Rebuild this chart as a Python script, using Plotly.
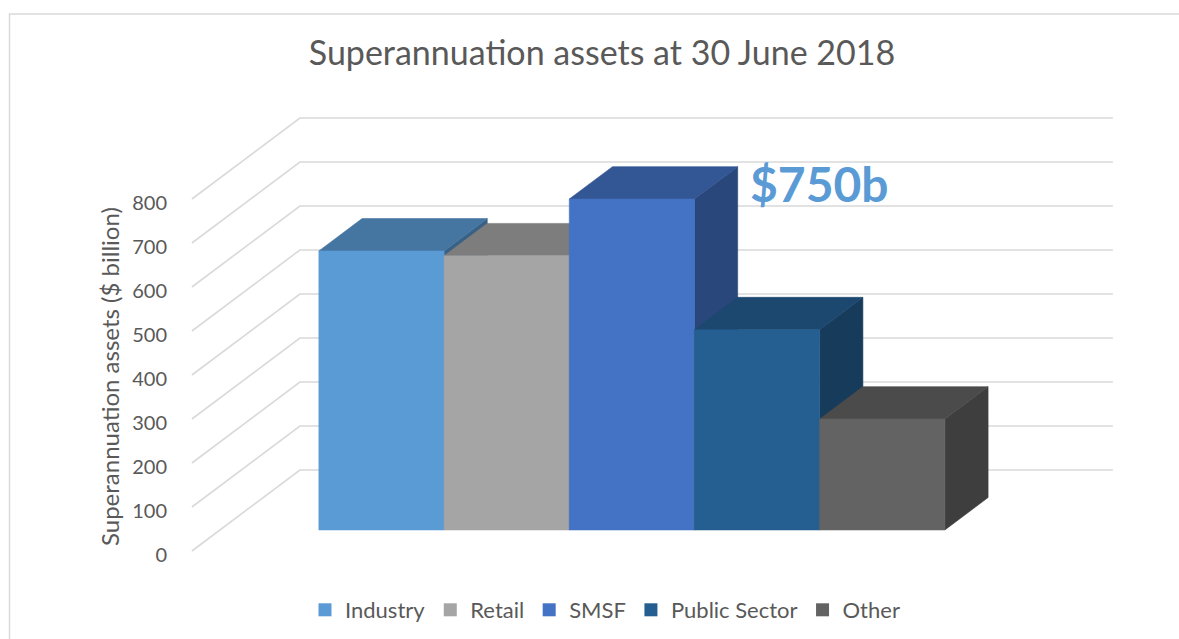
import plotly.graph_objects as go

# ---- data ----
categories = ["Industry", "Retail", "SMSF", "Public Sector", "Other"]
assets_bn = [634, 623, 752, 455, 252]
tick_values = [0, 100, 200, 300, 400, 500, 600, 700, 800]
title_text = "Superannuation assets at 30 June 2018"
y_title = "Superannuation assets ($ billion)"
callout = "$750b"

# ---- style / layout constants ----
colors = ["#5B9BD5", "#A5A5A5", "#4472C4", "#255E91", "#636363"]
TOP_SHADE, SIDE_SHADE = 0.76, 0.63
DX, DY = 0.8626, 184.1          # oblique offset for a full depth (x in category units, y in value units)
BAR_D0, BAR_D1 = 0.26, 0.66     # depth span of bars
WALL_X0, WALL_X1 = -1.29, 5.204 # floor-x of side wall plane and right end of back wall
X_RANGE = [-1.385, 6.083]
Y_RANGE = [-20.45, 1025]
GRID = "#D9D9D9"
TXT = "#595959"
FONT = "Lato"
W, H = 1179, 639
ML, MR, MT, MB = 180, 64, 100, 79


def shade(hex_color, k):
    h = hex_color.lstrip("#")
    r, g, b = (int(h[i:i + 2], 16) for i in (0, 2, 4))
    return "rgb({},{},{})".format(int(r * k), int(g * k), int(b * k))


def P(x, h, d):
    return x + d * DX, h + d * DY


def poly(points, color, name):
    xs = [p[0] for p in points] + [points[0][0]]
    ys = [p[1] for p in points] + [points[0][1]]
    return go.Scatter(x=xs, y=ys, mode="lines", fill="toself", fillcolor=color,
                      line=dict(color=color, width=0.6), hoverinfo="skip",
                      showlegend=False, name=name)


fig = go.Figure()

# gridlines on side wall + back wall
gx, gy = [], []
for t in tick_values:
    for pt in (P(WALL_X0, t, 0), P(WALL_X0, t, 1), P(WALL_X1, t, 1)):
        gx.append(pt[0]); gy.append(pt[1])
    gx.append(None); gy.append(None)
fig.add_trace(go.Scatter(x=gx, y=gy, mode="lines", line=dict(color=GRID, width=1.6),
                         hoverinfo="skip", showlegend=False))

# 3-D bars, drawn left to right
for i, (cat, v, c) in enumerate(zip(categories, assets_bn, colors)):
    xl, xr = i - 0.5, i + 0.5
    side = [P(xr, 0, BAR_D0), P(xr, v, BAR_D0), P(xr, v, BAR_D1), P(xr, 0, BAR_D1)]
    top = [P(xl, v, BAR_D0), P(xr, v, BAR_D0), P(xr, v, BAR_D1), P(xl, v, BAR_D1)]
    front = [P(xl, 0, BAR_D0), P(xr, 0, BAR_D0), P(xr, v, BAR_D0), P(xl, v, BAR_D0)]
    fig.add_trace(poly(side, shade(c, SIDE_SHADE), cat))
    fig.add_trace(poly(top, shade(c, TOP_SHADE), cat))
    fig.add_trace(poly(front, c, cat))

# legend entries
for cat, c in zip(categories, colors):
    fig.add_trace(go.Scatter(x=[None], y=[None], mode="markers", name=cat,
                             marker=dict(symbol="square", size=13, color=c)))

pw = W - ML - MR
ph = H - MT - MB


def px_x(p):
    return (p - ML) / pw


def px_y(p):
    return (H - MB - p) / ph


annotations = [
    dict(text=y_title, textangle=-90, x=px_x(109), y=px_y(377), xref="paper", yref="paper",
         showarrow=False, font=dict(family=FONT, size=24, color=TXT),
         xanchor="center", yanchor="middle"),
    dict(text="<b>" + callout + "</b>", x=px_x(819), y=px_y(183), xref="paper", yref="paper",
         showarrow=False, font=dict(family=FONT, size=48, color="#5B9BD5"),
         xanchor="center", yanchor="middle"),
]

fig.update_layout(
    width=W, height=H,
    margin=dict(l=ML, r=MR, t=MT, b=MB, autoexpand=False),
    paper_bgcolor="white", plot_bgcolor="white",
    title=dict(text=title_text, x=602 / W, xref="container", xanchor="center",
               y=1 - 53 / H, yref="container", yanchor="middle",
               font=dict(family=FONT, size=34, color=TXT)),
    xaxis=dict(range=X_RANGE, visible=False, fixedrange=True),
    yaxis=dict(range=Y_RANGE, tickvals=tick_values, showgrid=False, zeroline=False,
               showline=False, ticks="outside", ticklen=8, tickcolor="rgba(0,0,0,0)",
               ticklabelshift=4,
               tickfont=dict(family=FONT, size=20, color=TXT), fixedrange=True),
    legend=dict(orientation="h", x=px_x(605), xanchor="center", y=px_y(610), yanchor="middle",
                font=dict(family=FONT, size=22, color=TXT), itemwidth=30,
                bgcolor="rgba(0,0,0,0)"),
    annotations=annotations,
    shapes=[dict(type="rect", xref="paper", yref="paper",
                 x0=px_x(9.5), x1=px_x(1190), y0=px_y(650), y1=px_y(14),
                 line=dict(color=GRID, width=1.5), fillcolor="rgba(0,0,0,0)", layer="below")],
    showlegend=True,
)

fig.write_html("out.html", config={"displayModeBar": False},
               post_script="document.body.style.margin='0';")
